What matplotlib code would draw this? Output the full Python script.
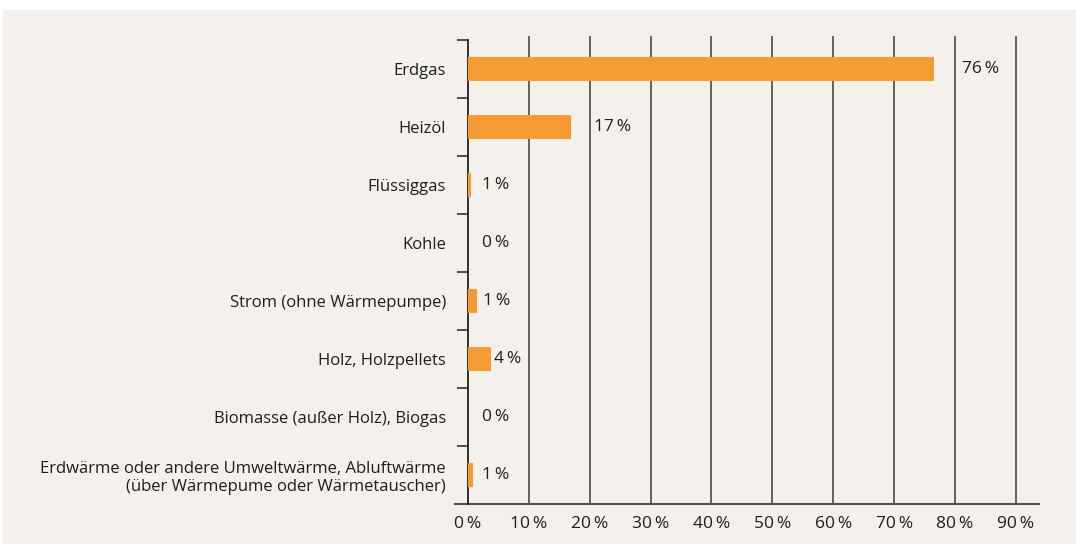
import matplotlib
matplotlib.use("Agg")
import matplotlib.pyplot as plt
from matplotlib.patches import Rectangle

plt.rcParams["font.family"] = ["Open Sans", "DejaVu Sans"]

categories = [
    "Erdgas",
    "Heizöl",
    "Flüssiggas",
    "Kohle",
    "Strom (ohne Wärmepumpe)",
    "Holz, Holzpellets",
    "Biomasse (außer Holz), Biogas",
    "Erdwärme oder andere Umweltwärme, Abluftwärme\n(über Wärmepume oder Wärmetauscher)",
]
values = [76.5, 16.9, 0.5, 0.0, 1.4, 3.8, 0.0, 0.9]
labels = ["76 %", "17 %", "1 %", "0 %", "1 %", "4 %", "0 %", "1 %"]
xticks = [0, 10, 20, 30, 40, 50, 60, 70, 80, 90]

BG = "#F4F1EC"
ORANGE = "#F59B33"
TEXT = "#1E1E1E"
GRID = "#555555"

fig = plt.figure(figsize=(10.76, 5.44), dpi=100, facecolor="white")
fig.patches.append(Rectangle((3 / 1076, 0), 1, 1 - 10 / 544, transform=fig.transFigure,
                             facecolor=BG, edgecolor="none", zorder=-10))

ax = fig.add_axes([468 / 1076, 40 / 544, 571 / 1076, 464 / 544])
ax.set_facecolor("none")

y = list(range(len(categories)))
ax.barh(y, values, height=0.43, color=ORANGE, zorder=3)

# label offsets in pixels from bar end
offsets = [28, 23, 11, 14, 6, 3, 14, 9]
for yi, v, lab, off in zip(y, values, labels, offsets):
    ax.annotate(lab.replace(" ", "\u2009"), (v, yi), xytext=(off * 0.72, 0),
                textcoords="offset points", ha="left", va="center",
                fontsize=12.5, color=TEXT, zorder=4)

ax.set_xlim(0, 93.8)
ax.set_ylim(len(categories) - 0.5, -0.5)

# vertical gridlines, a bit taller than the plot
ax.vlines(xticks[1:], 0, 1.008, transform=ax.get_xaxis_transform(),
          color=GRID, lw=1.3, clip_on=False, zorder=2)
# bottom axis line extending left of the spine
ax.plot([-0.023, 1], [0, 0], transform=ax.transAxes, color=GRID, lw=1.5,
        clip_on=False, zorder=2)

for s in ["top", "right", "bottom"]:
    ax.spines[s].set_visible(False)
ax.spines["left"].set_color("#222222")
ax.spines["left"].set_linewidth(1.3)

ax.set_yticks(y)
ax.set_yticklabels(categories, fontsize=12, color=TEXT, ha="right",
                   multialignment="right")
ax.set_yticks([i - 0.5 for i in range(len(categories))], minor=True)
ax.tick_params(axis="y", which="major", length=0, pad=16)
ax.tick_params(axis="y", which="minor", length=8, width=1.2, color="#333333")

ax.set_xticks(xticks)
ax.set_xticklabels([f"{t}\u2009%" for t in xticks], fontsize=12.5, color=TEXT)
ax.tick_params(axis="x", length=0, pad=9)

fig.savefig("out.png", dpi=100, facecolor=fig.get_facecolor())
